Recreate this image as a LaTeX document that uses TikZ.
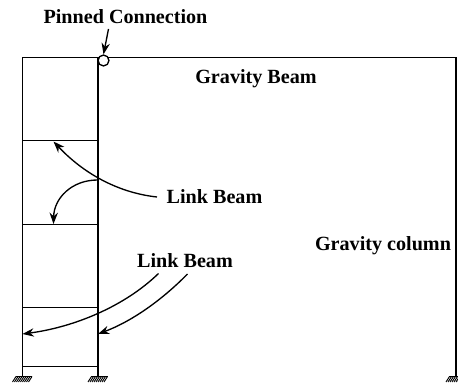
\documentclass[tikz,border=0pt]{standalone}
\usepackage{fontspec}
\setmainfont{Liberation Serif}
\usetikzlibrary{arrows.meta}

\begin{document}
\begin{tikzpicture}[x=0.75pt,y=-0.75pt]
\tikzset{
  junction/.style={inner sep=0pt,minimum size=0pt},
  textlabel/.style={inner sep=0pt,font=\fontsize{15.1}{17}\selectfont\bfseries},
  framed/.style={line width=1.25pt},
  linkbeam/.style={line width=1.1pt},
  leader/.style={-{Stealth[length=3mm,width=2.2mm]},line width=1pt},
  pinned/.style={circle,draw,fill=white,line width=1pt,minimum size=8.2pt,inner sep=0pt},
  hatching/.style={line width=0.7pt}
}
\useasboundingbox (0,0) rectangle (458,385);
% frame corners
\node[junction] (n_tl) at (22.5,57.5) {};
\node[junction] (n_tm) at (98,57.5) {};
\node[junction] (n_tr) at (456,57.5) {};
\node[junction] (n_bl) at (22.5,377) {};
\node[junction] (n_bm) at (98,377) {};
\node[junction] (n_br) at (456,377) {};
% link beam ends
\node[junction] (n_l1) at (22.5,140.5) {};
\node[junction] (n_r1) at (98,140.5) {};
\node[junction] (n_l2) at (22.5,224.5) {};
\node[junction] (n_r2) at (98,224.5) {};
\node[junction] (n_l3) at (22.5,307.5) {};
\node[junction] (n_r3) at (98,307.5) {};
\node[junction] (n_l4) at (22.5,366.5) {};
\node[junction] (n_r4) at (98,366.5) {};
% leader ends
\node[junction] (n_a1) at (53.5,141.5) {};
\node[junction] (n_a2) at (53.5,224) {};
\node[junction] (n_split) at (97.5,180) {};
\node[junction] (n_a3) at (22.5,334) {};
\node[junction] (n_a4) at (98,334) {};
\node[junction] (n_s1) at (157,197) {};
\node[junction] (n_s3) at (158.5,273.5) {};
\node[junction] (n_s4) at (187.5,274) {};
\node[junction] (n_p0) at (108.5,29) {};
% texts
\node[textlabel] (n_pinned) at (125.5,16.5) {Pinned Connection};
\node[textlabel] (n_gbeam) at (256,79) {Gravity Beam};
\node[textlabel] (n_link1) at (214.5,197) {Link Beam};
\node[textlabel] (n_link2) at (185,261) {Link Beam};
\node[textlabel] (n_gcol) at (383,245.5) {Gravity column};
% frame
\draw[framed] (n_bl.center) -- (n_tl.center) -- (n_tr.center) -- (n_br.center);
\draw[framed,line width=1.5pt] (n_tm.center) -- (n_bm.center);
\draw[linkbeam] (n_l1.center) -- (n_r1.center);
\draw[linkbeam] (n_l2.center) -- (n_r2.center);
\draw[linkbeam] (n_l3.center) -- (n_r3.center);
\draw[linkbeam] (n_l4.center) -- (n_r4.center);
\node[pinned] (n_pin) at (103.5,60.5) {};
% supports
\foreach \sx in {22.5,98,456}{
  \draw[line width=0.6pt] (\sx-7,376.5) -- (\sx+9.5,376.5);
  \foreach \hx in {-10,-8,...,6}{
    \draw[hatching] (\sx+\hx,382) -- (\sx+\hx+3.5,376.5);
  }
}
% leaders
\draw[leader] (n_p0.center) -- (n_pin.north);
\draw[leader] (n_s1.center) .. controls (120,193) and (85,175) .. (n_a1.center);
\draw[leader] (n_split.center) .. controls (72,180) and (54,198) .. (n_a2.center);
\draw[leader] (n_s3.center) .. controls (125,306) and (75,327) .. (n_a3.center);
\draw[leader] (n_s4.center) .. controls (160,302) and (130,322) .. (n_a4.center);
\end{tikzpicture}
\end{document}
